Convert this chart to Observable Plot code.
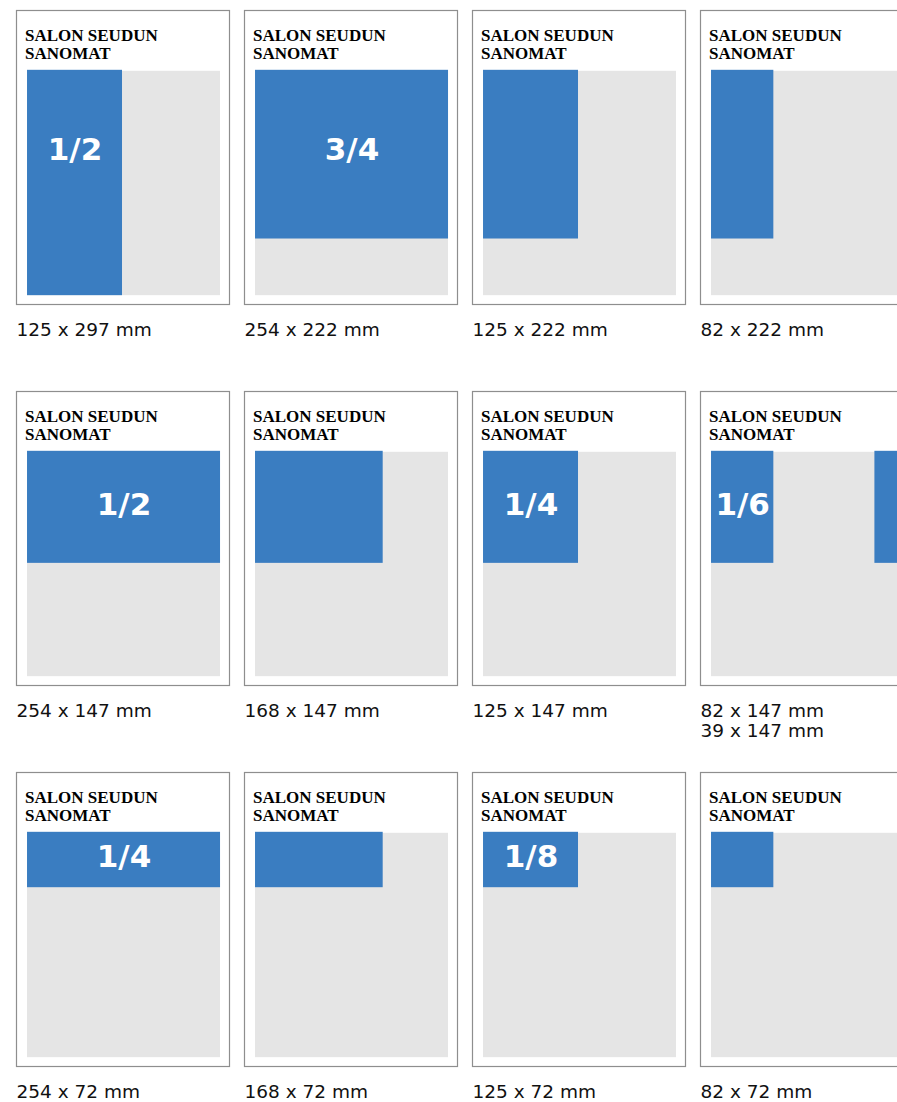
<!DOCTYPE html>
<html><head><meta charset="utf-8">
<script src="https://cdn.jsdelivr.net/npm/d3@7"></script>
<script src="https://cdn.jsdelivr.net/npm/@observablehq/plot@0.6"></script>
<style>
html,body{margin:0;padding:0;background:#fff;overflow:hidden;}
#chart svg{max-width:none !important;display:block;}
</style></head><body><div id="chart"></div>
<script>
// Page of the newspaper, in mm
const TITLE = "SALON SEUDUN\nSANOMAT";
const PAGE_W = 254, PAGE_H = 297;
const COLS = 4;
// One ad per panel (left-aligned), in mm
const adWidths  = [125, 254, 125, 82, 254, 168, 125, 82, 254, 168, 125, 82];
const adHeights = [297, 222, 222, 222, 147, 147, 147, 147, 72, 72, 72, 72];
const fractions = ["1/2", "3/4", "", "", "1/2", "", "1/4", "1/6", "1/4", "", "1/8", ""];
// Extra right-aligned ad
const extraPanel   = [7];
const extraWidths  = [39];
const extraHeights = [147];

const panels = adWidths.map((w, i) => ({i, col: i % COLS, row: Math.floor(i / COLS), w, h: adHeights[i], frac: fractions[i]}));
const ads = [
  ...panels.map(p => ({...p, x1: 0})),
  ...extraPanel.map((pi, j) => ({...panels[pi], w: extraWidths[j], h: extraHeights[j], x1: PAGE_W - extraWidths[j], frac: ""}))
];
panels.forEach(p => { p.label = ads.filter(a => a.i === p.i).map(a => `${a.w} x ${a.h} mm`).join("\n"); });

const plot = Plot.plot({
  width: 920, height: 1102,
  marginTop: 9, marginBottom: 34, marginLeft: 15, marginRight: 7,
  fx: {domain: [0, 1, 2, 3], paddingInner: 0.0671, paddingOuter: 0, axis: null},
  fy: {domain: [0, 1, 2], paddingInner: 0.2277, paddingOuter: 0, axis: null},
  x: {domain: [-14.5, 265.8], axis: null},
  y: {domain: [-80.5, 308.7], reverse: true, axis: null},
  style: {maxWidth: "none", overflow: "visible", background: "white"},
  marks: [
    Plot.rect(panels, {fx: "col", fy: "row", x1: () => 0, x2: () => PAGE_W, y1: () => 0, y2: () => PAGE_H, fill: "#e5e5e5"}),
    Plot.rect(ads, {fx: "col", fy: "row", x1: "x1", x2: d => d.x1 + d.w, y1: () => 0, y2: "h", fill: "#3a7dc1", insetTop: -1}),
    Plot.frame({stroke: "#8e8e8e", strokeWidth: 1.2}),
    Plot.text(ads.filter(d => d.frac), {fx: "col", fy: "row", x: d => d.x1 + d.w / 2, y: d => Math.min(d.h / 2, 108), text: "frac",
      fill: "white", fontSize: 31, fontWeight: "bold", fontFamily: "DejaVu Sans", dy: -3}),
    Plot.text([TITLE], {frameAnchor: "top-left", dx: 8.5, dy: 18, lineAnchor: "top", lineHeight: 1.05,
      fontFamily: "Liberation Serif", fontWeight: "bold", fontSize: 17, fill: "black"}),
    Plot.text(panels, {fx: "col", fy: "row", text: "label", frameAnchor: "bottom-left", dx: 0, dy: 17.5, lineAnchor: "top", lineHeight: 1.08,
      fontFamily: "DejaVu Sans", fontSize: 18.5, fill: "#111"})
  ]
});
document.getElementById("chart").appendChild(plot);
</script></body></html>
